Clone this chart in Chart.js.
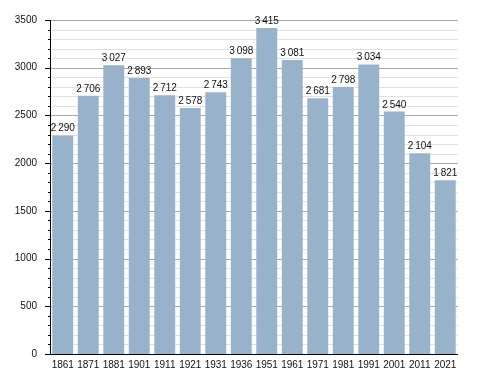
<!DOCTYPE html>
<html><head><meta charset="utf-8">
<script src="https://cdn.jsdelivr.net/npm/chart.js@4/dist/chart.umd.min.js"></script>
<style>html,body{margin:0;padding:0;background:#fff}#w{width:488px;height:373px}</style>
</head><body><div id="w"><canvas id="c"></canvas></div>
<script>
const years = ["1861","1871","1881","1901","1911","1921","1931","1936","1951","1961","1971","1981","1991","2001","2011","2021"];
const population = [2290,2706,3027,2893,2712,2578,2743,3098,3415,3081,2681,2798,3034,2540,2104,1821];
const yMax = 3500;
const majorStep = 500;
const minorStep = 100;

const FONT = "'Liberation Sans', Arial, sans-serif";
function fmt(v){ const s = String(v); return s.length > 3 ? s.slice(0, s.length-3) + "\u2009" + s.slice(-3) : s; }

const extras = {
  id: 'extras',
  beforeDatasetsDraw(chart){
    const ctx = chart.ctx, y = chart.scales.y, a = chart.chartArea;
    ctx.save(); ctx.lineWidth = 1;
    for (let v = minorStep; v <= yMax; v += minorStep) {
      const py = Math.round(y.getPixelForValue(v)) + 0.5;
      ctx.strokeStyle = v % majorStep === 0 ? '#a8a8a8' : '#e0e0e0';
      ctx.beginPath(); ctx.moveTo(a.left, py); ctx.lineTo(a.right, py); ctx.stroke();
    }
    ctx.restore();
  },
  afterDatasetsDraw(chart){
    const ctx = chart.ctx, y = chart.scales.y, a = chart.chartArea;
    ctx.save();
    ctx.strokeStyle = '#000'; ctx.lineWidth = 1;
    const top = Math.round(y.getPixelForValue(yMax));
    const bot = Math.round(y.getPixelForValue(0)) + 0.5;
    ctx.beginPath();
    ctx.moveTo(a.left + 0.5, top); ctx.lineTo(a.left + 0.5, bot);
    ctx.lineTo(a.right, bot);
    ctx.stroke();
    for (let v = 0; v <= yMax; v += minorStep) {
      const py = Math.round(y.getPixelForValue(v)) + 0.5;
      const len = v % majorStep === 0 ? 5 : 2;
      ctx.beginPath(); ctx.moveTo(a.left - len, py); ctx.lineTo(a.left, py); ctx.stroke();
    }
    ctx.fillStyle = '#111'; ctx.font = '10px ' + FONT;
    ctx.textAlign = 'center'; ctx.textBaseline = 'alphabetic';
    chart.getDatasetMeta(0).data.forEach((b, i) => {
      ctx.fillText(fmt(population[i]), b.x, b.y - 4);
    });
    ctx.restore();
  }
};

new Chart(document.getElementById('c'), {
  type: 'bar',
  data: { labels: years, datasets: [{ data: population, backgroundColor: '#98b2cb', borderWidth: 0,
    categoryPercentage: 1, barPercentage: 0.82 }] },
  options: {
    responsive: true, maintainAspectRatio: false, animation: false,
    layout: { padding: { top: 20, right: 30, left: 0, bottom: 0 } },
    plugins: { legend: { display: false }, tooltip: { enabled: false } },
    scales: {
      x: {
        grid: { display: false, drawTicks: false },
        border: { display: false },
        ticks: { color: '#111', font: { size: 10, family: FONT }, padding: 5, maxRotation: 0, autoSkip: false },
        afterFit(s){ s.height = 19; }
      },
      y: {
        min: 0, max: yMax,
        grid: { display: false, drawTicks: false },
        border: { display: false },
        ticks: { stepSize: minorStep, autoSkip: false, color: '#111', font: { size: 10, family: FONT }, padding: 13,
          callback: v => v % majorStep === 0 ? String(v) : '' },
        afterFit(s){ s.width = 50; }
      }
    }
  },
  plugins: [extras]
});
</script></body></html>
